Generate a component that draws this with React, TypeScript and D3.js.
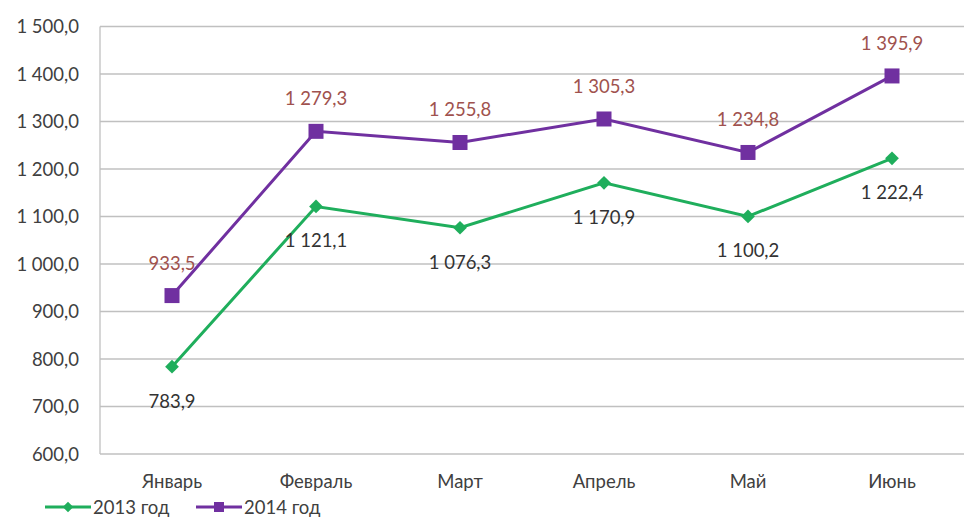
import { useEffect, useRef } from "react";
import * as d3 from "d3";

const months = ["Январь", "Февраль", "Март", "Апрель", "Май", "Июнь"];
const values2013 = [783.9, 1121.1, 1076.3, 1170.9, 1100.2, 1222.4];
const values2014 = [933.5, 1279.3, 1255.8, 1305.3, 1234.8, 1395.9];
const yTicks = [600, 700, 800, 900, 1000, 1100, 1200, 1300, 1400, 1500];

const fmt = (v: number) => {
  const [int, dec] = v.toFixed(1).split(".");
  const grouped = int.replace(/\B(?=(\d{3})+(?!\d))/g, " ");
  return `${grouped},${dec}`;
};

const GREEN = "#1fae5c";
const PURPLE = "#7030a0";

const App = () => {
  const ref = useRef<SVGSVGElement | null>(null);

  useEffect(() => {
    if (!ref.current) return;
    const svg = d3.select(ref.current);
    svg.selectAll("*").remove();

    const width = 968,
      height = 518;
    const margin = { top: 26.5, right: 4, bottom: 64, left: 100 };
    const font = "Lato, 'Open Sans', sans-serif";
    const fs = 18.5;

    const x = d3
      .scaleBand()
      .domain(months)
      .range([margin.left, width - margin.right]);
    const y = d3
      .scaleLinear()
      .domain([600, 1500])
      .range([height - margin.bottom, margin.top]);
    const cx = (m: string) => x(m)! + x.bandwidth() / 2;

    // gridlines
    svg
      .append("g")
      .selectAll("line")
      .data(yTicks)
      .enter()
      .append("line")
      .attr("x1", margin.left)
      .attr("x2", width - margin.right)
      .attr("y1", (d) => y(d))
      .attr("y2", (d) => y(d))
      .attr("stroke", "#c0c0c0")
      .attr("stroke-width", 1.3);

    svg
      .append("line")
      .attr("x1", margin.left)
      .attr("x2", margin.left)
      .attr("y1", y(1500))
      .attr("y2", y(600))
      .attr("stroke", "#c0c0c0")
      .attr("stroke-width", 1.3);

    // y tick labels
    svg
      .append("g")
      .selectAll("text")
      .data(yTicks)
      .enter()
      .append("text")
      .attr("x", 79)
      .attr("y", (d) => y(d) + 6.5)
      .attr("text-anchor", "end")
      .attr("font-family", font)
      .attr("font-size", fs)
      .attr("fill", "#404040")
      .text((d) => fmt(d));

    // x labels
    svg
      .append("g")
      .selectAll("text")
      .data(months)
      .enter()
      .append("text")
      .attr("x", (d) => cx(d))
      .attr("y", 488)
      .attr("text-anchor", "middle")
      .attr("font-family", font)
      .attr("font-size", fs)
      .attr("fill", "#404040")
      .text((d) => d);

    const line = d3
      .line<number>()
      .x((_, i) => cx(months[i]))
      .y((d) => y(d));

    // 2013 series
    svg
      .append("path")
      .datum(values2013)
      .attr("fill", "none")
      .attr("stroke", GREEN)
      .attr("stroke-width", 3)
      .attr("d", line);
    svg
      .append("g")
      .selectAll("path")
      .data(values2013)
      .enter()
      .append("path")
      .attr("d", d3.symbol(d3.symbolDiamond2, 120)())
      .attr("transform", (d, i) => `translate(${cx(months[i])},${y(d)})`)
      .attr("fill", GREEN);

    // 2014 series
    svg
      .append("path")
      .datum(values2014)
      .attr("fill", "none")
      .attr("stroke", PURPLE)
      .attr("stroke-width", 3)
      .attr("d", line);
    svg
      .append("g")
      .selectAll("rect")
      .data(values2014)
      .enter()
      .append("rect")
      .attr("x", (_, i) => cx(months[i]) - 7.5)
      .attr("y", (d) => y(d) - 7.5)
      .attr("width", 15)
      .attr("height", 15)
      .attr("fill", PURPLE);

    // data labels
    svg
      .append("g")
      .selectAll("text")
      .data(values2013)
      .enter()
      .append("text")
      .attr("x", (_, i) => cx(months[i]))
      .attr("y", (d) => y(d) + 41)
      .attr("text-anchor", "middle")
      .attr("font-family", font)
      .attr("font-size", fs)
      .attr("fill", "#333333")
      .text((d) => fmt(d));
    svg
      .append("g")
      .selectAll("text")
      .data(values2014)
      .enter()
      .append("text")
      .attr("x", (_, i) => cx(months[i]))
      .attr("y", (d) => y(d) - 26)
      .attr("text-anchor", "middle")
      .attr("font-family", font)
      .attr("font-size", fs)
      .attr("fill", "#a0524e")
      .text((d) => fmt(d));

    // legend
    const legend = [
      { name: "2013 год", color: GREEN, kind: "diamond", x: 45 },
      { name: "2014 год", color: PURPLE, kind: "square", x: 196 },
    ];
    const lg = svg
      .append("g")
      .selectAll("g")
      .data(legend)
      .enter()
      .append("g")
      .attr("transform", (d) => `translate(${d.x},507)`);
    lg.append("line")
      .attr("x1", 0)
      .attr("x2", 46)
      .attr("stroke", (d) => d.color)
      .attr("stroke-width", 3);
    lg.append("path")
      .attr("d", (d) =>
        d.kind === "diamond"
          ? d3.symbol(d3.symbolDiamond2, 70)()!
          : d3.symbol(d3.symbolSquare, 100)()!
      )
      .attr("transform", "translate(23,0)")
      .attr("fill", (d) => d.color);
    lg.append("text")
      .attr("x", 48)
      .attr("y", 6.5)
      .attr("font-family", font)
      .attr("font-size", fs)
      .attr("fill", "#404040")
      .text((d) => d.name);
  }, []);

  return (
    <div style={{ position: "absolute", left: 0, top: 0 }}>
      <svg ref={ref} width={968} height={518} style={{ display: "block", background: "#fff" }}></svg>
    </div>
  );
};

export default App;
